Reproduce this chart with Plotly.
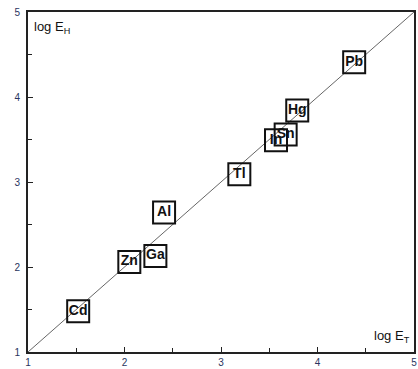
import plotly.graph_objects as go

elements = ["Cd", "Zn", "Ga", "Al", "Tl", "In", "Sn", "Hg", "Pb"]
log_et = [1.52, 2.05, 2.32, 2.41, 3.19, 3.57, 3.67, 3.79, 4.38]
log_eh = [1.48, 2.06, 2.13, 2.64, 3.09, 3.49, 3.56, 3.84, 4.41]
diag = [1, 5]

fig = go.Figure()
fig.add_trace(go.Scatter(x=diag, y=diag, mode="lines",
                         line=dict(color="#666666", width=1), hoverinfo="skip"))
fig.add_trace(go.Scatter(
    x=log_et, y=log_eh, mode="markers+text", text=elements,
    textposition="middle center",
    textfont=dict(family="Liberation Sans", size=14, color="#111111", weight="bold"),
    marker=dict(symbol="square", size=22, color="rgba(0,0,0,0)",
                line=dict(color="#111111", width=2)),
))

axis_common = dict(
    range=[1, 5], dtick=1, ticks="inside", ticklen=5, tickwidth=1,
    tickcolor="#222222", showline=True, linecolor="#222222", linewidth=2,
    mirror=True, showgrid=False, zeroline=False, automargin=False,
    tickfont=dict(family="Liberation Sans", size=10, color="#2a3560"),
    minor=dict(ticks="inside", dtick=0.5, ticklen=4, tickcolor="#222222"),
)
fig.update_xaxes(**axis_common, ticklabelstandoff=0)
fig.update_yaxes(**axis_common, ticklabelstandoff=4)

fig.add_annotation(x=0.01, y=0.985, xref="paper", yref="paper", xanchor="left", yanchor="top",
                   text="log E<sub>H</sub>", showarrow=False,
                   font=dict(family="Liberation Sans", size=13, color="#111111"))
fig.add_annotation(x=0.995, y=0.015, xref="paper", yref="paper", xanchor="right", yanchor="bottom",
                   text="log E<sub>T</sub>", showarrow=False,
                   font=dict(family="Liberation Sans", size=13, color="#111111"))

fig.update_layout(
    width=418, height=369, showlegend=False,
    margin=dict(l=28, r=4, t=12, b=17),
    plot_bgcolor="white", paper_bgcolor="white",
)
fig.write_html("out.html", config={"displayModeBar": False},
               post_script="document.body.style.margin='0';document.body.style.overflow='hidden';")
